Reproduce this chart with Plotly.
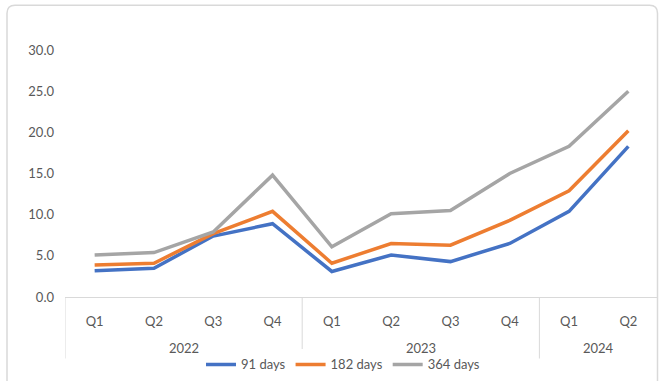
import plotly.graph_objects as go

# Quarterly yields (%) by tenor
quarters = ["Q1", "Q2", "Q3", "Q4", "Q1", "Q2", "Q3", "Q4", "Q1", "Q2"]
year_labels = ["2022", "2023", "2024"]
year_spans = [(0, 3), (4, 7), (8, 9)]  # first/last quarter index of each year
days_91 = [3.2, 3.5, 7.4, 8.9, 3.1, 5.1, 4.3, 6.5, 10.4, 18.3]
days_182 = [3.9, 4.1, 7.7, 10.4, 4.1, 6.5, 6.3, 9.3, 12.9, 20.2]
days_364 = [5.1, 5.4, 7.9, 14.8, 6.1, 10.1, 10.5, 15.0, 18.3, 25.0]
y_ticks = [0, 5, 10, 15, 20, 25, 30]

W, H = 660, 381
L, R, T, B = 65, 2, 50, 82
pw, ph = W - L - R, H - T - B

FONT = "Lato, 'Open Sans', sans-serif"
TXT = "#595959"
GRID = "#D9D9D9"

xs = list(range(len(quarters)))

fig = go.Figure()
for name, vals, col in [
    ("91 days", days_91, "#4472C4"),
    ("182 days", days_182, "#ED7D31"),
    ("364 days", days_364, "#A5A5A5"),
]:
    fig.add_trace(go.Scatter(
        x=xs, y=vals, name=name, mode="lines",
        line=dict(color=col, width=3.5),
    ))


def px(x):
    return (x - L) / pw


def py(y):
    return (H - B - y) / ph


# rounded outer frame
x0, x1, y0, y1 = px(7), px(657.5), py(5), py(395)
rx, ry = 8 / pw, 8 / ph
frame = (f"M {x0} {y1} L {x0} {y0 - ry} Q {x0} {y0} {x0 + rx} {y0} "
         f"L {x1 - rx} {y0} Q {x1} {y0} {x1} {y0 - ry} L {x1} {y1}")
fig.add_shape(type="path", path=frame, xref="paper", yref="paper",
              line=dict(color=GRID, width=1.5), layer="below")

# group dividers of the two-level category axis
div_top, div_bot = py(299), py(361)
edges = sorted({s - 0.5 for s, _ in year_spans} | {e + 0.5 for _, e in year_spans})
for e in edges:
    fig.add_shape(type="line", xref="x", yref="paper", x0=e, x1=e,
                  y0=div_top, y1=div_bot, line=dict(color=GRID, width=1))

# year labels under their quarters
for lab, (s, e) in zip(year_labels, year_spans):
    fig.add_annotation(x=(s + e) / 2, xref="x", y=py(350), yref="paper",
                       text=lab, showarrow=False, yanchor="middle",
                       font=dict(family=FONT, size=13, color=TXT))

fig.update_layout(
    width=W, height=H,
    margin=dict(l=L, r=R, t=T, b=B),
    paper_bgcolor="white", plot_bgcolor="white",
    font=dict(family=FONT, size=13, color=TXT),
    showlegend=True,
    legend=dict(orientation="h", x=px(343), xanchor="center",
                y=py(367), yanchor="middle",
                font=dict(family=FONT, size=13, color=TXT),
                itemwidth=30, tracegroupgap=0),
    xaxis=dict(
        range=[-0.5, len(quarters) - 0.5], tickvals=xs, ticktext=quarters,
        showline=True, linecolor=GRID, linewidth=1,
        showgrid=False, zeroline=False, ticks="", ticklabelstandoff=12,
        tickfont=dict(family=FONT, size=13, color=TXT),
    ),
    yaxis=dict(
        range=[0, 30], tickvals=y_ticks,
        ticktext=[f"{v:.1f}" for v in y_ticks],
        showgrid=False, zeroline=False, showline=False, ticks="",
        ticklabelstandoff=10,
        tickfont=dict(family=FONT, size=13, color=TXT),
    ),
)

fig.write_html("out.html")
